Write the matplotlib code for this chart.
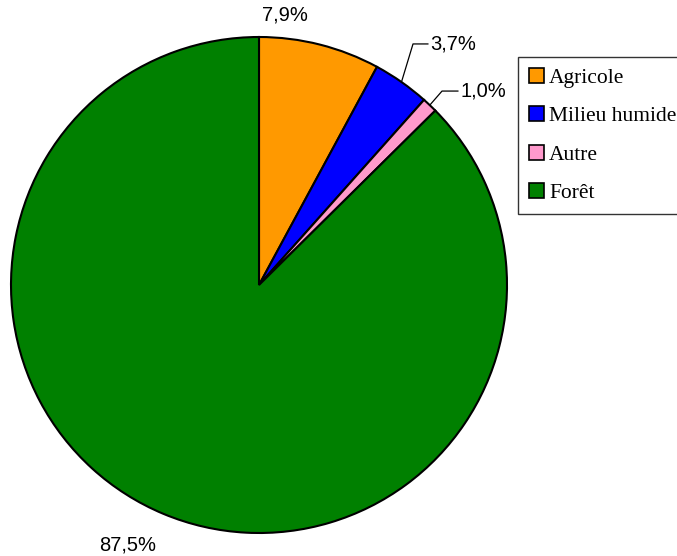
#!/usr/bin/env python3
""" Pie chart of land use shares with a legend on the right. """

import numpy as np
import matplotlib.pyplot as plt

categories = ["Agricole", "Milieu humide", "Autre", "Forêt"]
shares = [7.9, 3.7, 1.0, 87.5]
labels = ["7,9%", "3,7%", "1,0%", "87,5%"]
colors = ["#FF9900", "#0000FF", "#FF99CC", "#008000"]


def pie():
    """ Draw the pie, its percentage labels and the legend. """

    fig = plt.figure(figsize=(6.77, 5.56), dpi=100)
    ax = fig.add_axes([11 / 677, 23 / 556, 496 / 677, 496 / 556])

    wedges, _ = ax.pie(shares, colors=colors, startangle=90,
                       counterclock=False, radius=1,
                       wedgeprops=dict(edgecolor="black", linewidth=1.5))
    ax.set_xlim(-1, 1)
    ax.set_ylim(-1, 1)
    ax.set_aspect("equal")
    ax.axis("off")

    font = dict(family="Liberation Sans", fontsize=14.5, va="center")

    # 7,9% and 87,5% sit without leader lines
    ax.text(0.105, 1.089, labels[0], ha="center", **font)
    ax.text(-0.528, -1.048, labels[3], ha="center", **font)

    # small slices get an elbow leader line
    elbows = {1: (0.621, 0.972, 0.681), 2: (0.738, 0.782, 0.802)}
    for i, (ex, ey, hx) in elbows.items():
        w = wedges[i]
        mid = np.deg2rad((w.theta1 + w.theta2) / 2)
        sx, sy = np.cos(mid), np.sin(mid)
        ax.plot([sx, ex, hx], [sy, ey, ey], color="black", lw=0.9,
                clip_on=False)
        ax.text(hx + 0.01, ey, labels[i], ha="left", **font)

    leg = fig.legend(wedges, categories, loc="upper left",
                     bbox_to_anchor=(518 / 677, 1 - 57 / 556),
                     prop=dict(family="Liberation Serif", size=15.5),
                     frameon=True, fancybox=False, edgecolor="black",
                     handlelength=0.7, handleheight=0.7, handletextpad=0.25,
                     labelspacing=0.85, borderpad=0.5, borderaxespad=0)
    leg.get_frame().set_linewidth(1.0)
    for h in leg.legend_handles:
        h.set_linewidth(1.2)

    fig.savefig("out.png", dpi=100)


if __name__ == "__main__":
    pie()
